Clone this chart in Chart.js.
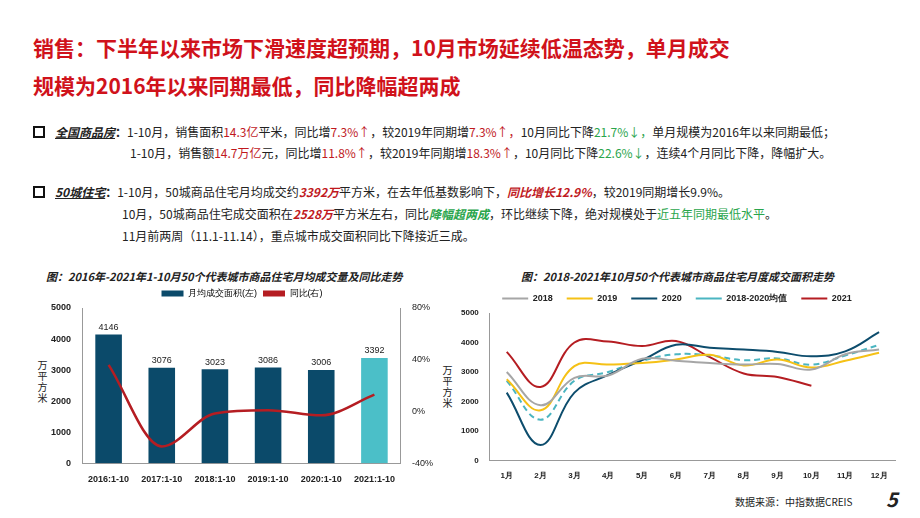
<!DOCTYPE html>
<html><head><meta charset="utf-8">
<script src="https://cdn.jsdelivr.net/npm/chart.js@4"></script>
<style>
body{margin:0;width:920px;height:518px;background:#fff;font-family:"Noto Sans CJK SC","Liberation Sans",sans-serif;position:relative;overflow:hidden}
.t{position:absolute;left:33px;color:#d0121b;font-weight:bold;font-size:21px;line-height:38px;top:28px}
.p{position:absolute;font-size:12px;color:#222;white-space:nowrap}
.r{color:#c0191e}.g{color:#2aa54c}.rb{color:#c0191e;font-weight:bold;font-style:italic}.gb{color:#2aa54c;font-weight:bold;font-style:italic}
.box{display:inline-block;width:8px;height:8px;border:2px solid #111;margin-right:10px;vertical-align:-1px}
.k{font-weight:bold;font-style:italic;text-decoration:underline}
.c{position:absolute}
.ct{position:absolute;font-size:11px;font-weight:bold;font-style:italic;color:#222;white-space:nowrap}
.v{position:absolute;font-size:10px;writing-mode:vertical-rl;color:#222;letter-spacing:1px}
</style></head><body>
<div class="t">销售：下半年以来市场下滑速度超预期，10月市场延续低温态势，单月成交<br>规模为2016年以来同期最低，同比降幅超两成</div>
<div class="p" style="left:33px;top:123px"><span class="box"></span><span class="k">全国商品房</span><b>：</b>1-10月，销售面积<span class="r">14.3亿</span>平米，同比增<span class="r">7.3%↑</span>，较2019年同期增<span class="r">7.3%↑，</span>10月同比下降<span class="g">21.7%↓，</span>单月规模为2016年以来同期最低；</div>
<div class="p" style="left:130px;top:144px">1-10月，销售额<span class="r">14.7万亿</span>元，同比增<span class="r">11.8%↑</span>，较2019年同期增<span class="r">18.3%↑</span>，10月同比下降<span class="g">22.6%↓</span>，连续4个月同比下降，降幅扩大。</div>
<div class="p" style="left:33px;top:183px"><span class="box"></span><span class="k">50城住宅</span><b>：</b>1-10月，50城商品住宅月均成交约<span class="rb">3392万</span>平方米，在去年低基数影响下，<span class="rb">同比增长12.9%</span>，较2019同期增长9.9%。</div>
<div class="p" style="left:122px;top:205px">10月，50城商品住宅成交面积在<span class="rb">2528万</span>平方米左右，同比<span class="gb">降幅超两成</span>，环比继续下降，绝对规模处于<span class="g">近五年同期最低水平</span>。</div>
<div class="p" style="left:122px;top:227px">11月前两周（11.1-11.14），重点城市成交面积同比下降接近三成。</div>

<div class="ct" style="left:46px;top:268px">图：2016年-2021年1-10月50个代表城市商品住宅月均成交量及同比走势</div>
<div class="ct" style="left:521px;top:268px">图：2018-2021年10月50个代表城市商品住宅月度成交面积走势</div>
<div class="v" style="left:35px;top:360px">万平方米</div>
<div class="v" style="left:440px;top:365px">万平方米</div>
<div class="c" style="left:48px;top:283px;width:388px;height:205px"><canvas id="left"></canvas></div>
<div class="c" style="left:458px;top:280px;width:438px;height:204px"><canvas id="right"></canvas></div>
<div class="p" style="left:735px;top:494px;font-size:10px">数据来源：中指数据CREIS</div>
<div class="p" style="left:886px;top:484px;font-size:20px;font-weight:bold;font-style:italic;color:#222">5</div>
<script>
const years = ["2016:1-10","2017:1-10","2018:1-10","2019:1-10","2020:1-10","2021:1-10"];
const avgArea = [4146,3076,3023,3086,3006,3392];
const yoy = [36,-27,-1.5,1,-3,13];
const months = ["1月","2月","3月","4月","5月","6月","7月","8月","9月","10月","11月","12月"];
const s2018 = [3000,1870,2800,2880,3450,3380,3300,3250,3270,3080,3600,3760];
const s2019 = [2750,1700,3200,3250,3300,3420,3580,3220,3420,3150,3380,3650];
const s2020 = [2300,520,2300,2900,3400,3920,3820,3760,3680,3530,3700,4350];
const sAvg = [2700,1380,2700,3000,3380,3600,3560,3400,3460,3250,3560,3920];
const s2021 = [3680,2490,4000,4030,3880,4050,3500,2950,2830,2530];

const tickFont = {size:9,weight:"bold",family:"Liberation Sans"};
const plain = v => String(v);
const barLabelPlugin = {
  id:"barLabel",
  afterDatasetsDraw(chart){
    const ctx = chart.ctx, meta = chart.getDatasetMeta(0);
    ctx.save(); ctx.font = "9px Liberation Sans"; ctx.fillStyle = "#222"; ctx.textAlign = "center";
    meta.data.forEach((b,i) => ctx.fillText(avgArea[i], b.x, b.y - 7));
    ctx.restore();
  }
};

new Chart(document.getElementById("left"), {
  data: {
    labels: years,
    datasets: [
      {type:"bar", label:"月均成交面积(左)", data:avgArea, yAxisID:"y",
       backgroundColor: avgArea.map((_,i) => i === 5 ? "#4bbfc8" : "#0b4a6a"), barPercentage:0.5, categoryPercentage:1, order:2},
      {type:"line", label:"同比(右)", data:yoy, yAxisID:"y1", borderColor:"#b51d22", backgroundColor:"#b51d22",
       borderWidth:2.5, pointRadius:0, cubicInterpolationMode:"monotone", order:1}
    ]
  },
  options: {
    responsive:true, maintainAspectRatio:false, animation:false,
    plugins:{legend:{labels:{boxWidth:22,boxHeight:6,font:{size:9},color:"#222",padding:6,
      generateLabels: ch => ch.data.datasets.map((d,i) => ({text:d.label, fillStyle:i?"#b51d22":"#0b4a6a", strokeStyle:i?"#b51d22":"#0b4a6a", lineWidth:0, datasetIndex:i}))}}},
    scales:{
      x:{grid:{display:false}, border:{color:"#999"}, ticks:{font:tickFont,color:"#222"}},
      y:{min:0,max:5000, ticks:{stepSize:1000,font:tickFont,color:"#222",callback:plain}, grid:{display:false}, border:{color:"#999"}},
      y1:{position:"right",min:-40,max:80, ticks:{stepSize:40,font:{size:9},color:"#222",callback:v=>v+"%"}, grid:{display:false}, border:{color:"#999"}}
    }
  },
  plugins:[barLabelPlugin]
});

function ln(label, data, color, dash){
  return {label, data, borderColor:color, backgroundColor:color, borderWidth:2, borderDash:dash||[], pointRadius:0, tension:0.4};
}
new Chart(document.getElementById("right"), {
  type:"line",
  data:{labels:months, datasets:[
    ln("2018", s2018, "#a6a6a6"),
    ln("2019", s2019, "#f5c116"),
    ln("2020", s2020, "#0d4d6d"),
    ln("2018-2020均值", sAvg, "#4bb5c1", [6,4]),
    ln("2021", s2021, "#b51d22")
  ]},
  options:{
    responsive:true, maintainAspectRatio:false, animation:false,
    plugins:{legend:{labels:{boxWidth:26,boxHeight:0,font:{size:9,weight:"bold"},color:"#222",padding:14}}},
    scales:{
      x:{offset:true, grid:{display:false}, border:{color:"#999"}, ticks:{font:{size:8,weight:"bold"},color:"#222"}},
      y:{min:0,max:5000, ticks:{stepSize:1000,font:{size:8,weight:"bold"},color:"#222",callback:plain}, grid:{display:false}, border:{color:"#999"}}
    }
  }
});
</script>
</body></html>
